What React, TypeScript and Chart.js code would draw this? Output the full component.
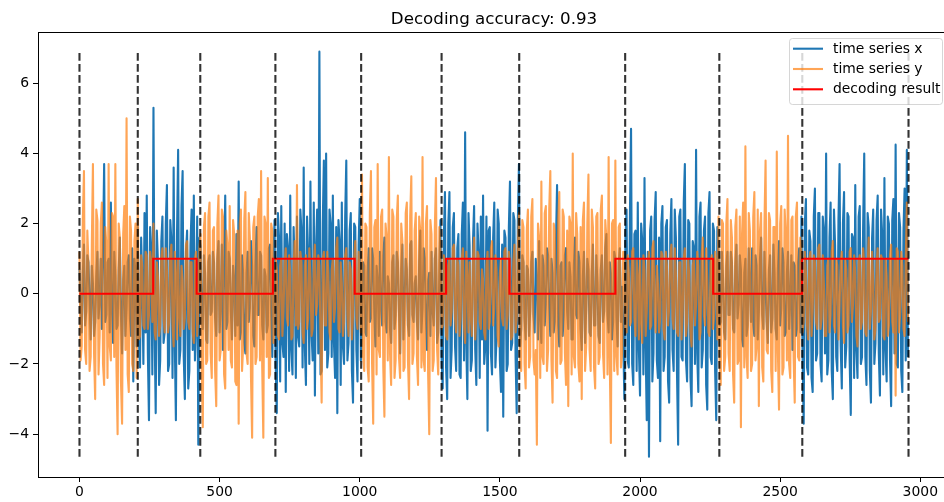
import React, { useEffect, useRef } from 'react';
import { Chart, registerables } from 'chart.js';

Chart.register(...registerables);

// ---------- data ----------
const titleText = 'Decoding accuracy: 0.93';
const legendLabels = ['time series x', 'time series y', 'decoding result'];

// values read every 4 time steps
const sampleStep = 4;

const seriesX = [
  0.7,-0.4,-1.1,0.6,1.4,-0.9,-0.5,1.1,0.9,-0.2,-1.3,0.8,0.3,-1.2,-0.8,0.5,1.2,-0.7,-0.2,1.0,
  -1.0,1.3,3.7,-0.8,-0.6,0.9,1.0,-1.1,2.6,-0.5,-1.4,1.2,0.5,-1.0,-0.9,0.7,1.6,-0.6,-1.7,0.4,
  0.8,-1.2,-0.4,0.9,1.1,-0.7,-1.2,1.3,-2.5,1.0,0.6,-1.5,1.9,-1.3,-2.1,1.6,0.4,-2.0,2.3,-1.1,
  2.8,-1.7,-3.6,1.9,1.2,-2.3,5.3,-1.0,-3.4,1.8,0.9,-2.6,-1.9,1.5,2.2,-1.4,-1.1,2.0,3.1,-2.2,
  -2.0,2.1,1.5,-2.4,3.6,-1.3,-3.6,1.7,4.1,-2.0,-1.6,2.5,3.5,-1.8,-3.0,1.2,1.8,-2.7,-2.2,1.4,
  2.4,-1.6,2.8,-1.9,-0.7,2.2,-4.3,1.6,1.3,-0.8,-1.0,1.1,0.6,-1.3,-1.4,0.9,1.1,-0.6,-0.5,1.2,
  0.9,-0.7,-1.2,1.0,1.5,-1.1,-0.3,1.4,-1.6,0.7,2.8,-1.0,-0.8,1.2,1.0,-0.5,-1.3,0.8,0.4,-1.2,
  1.7,-0.9,3.2,-1.3,-1.1,1.1,0.6,-1.4,-1.7,0.6,1.2,-0.8,-0.4,1.5,0.8,-1.2,-1.5,0.9,1.9,-0.6,
  -0.6,1.2,1.1,-0.9,-1.3,0.7,0.5,-1.1,-0.9,1.3,1.4,-0.6,-1.8,0.9,2.1,-2.0,-3.4,2.3,1.6,-2.5,
  2.5,-1.4,-1.8,2.0,-2.8,1.7,1.3,-2.2,2.8,-1.6,-2.3,1.9,0.7,-2.4,2.2,-1.2,-1.5,2.4,1.8,-2.1,
  3.6,-1.5,-2.6,2.2,1.1,-2.0,3.2,-1.1,-1.9,2.6,-2.9,1.3,2.4,-1.7,6.9,-2.3,-2.2,2.0,3.8,-1.6,
  4.0,-2.1,-1.7,2.4,2.0,-1.8,2.8,-1.4,-2.4,1.9,-3.4,2.1,1.5,-2.6,2.6,-1.5,-2.0,2.2,3.8,-1.9,
  -1.4,1.8,2.3,-2.2,-3.1,2.0,1.9,-1.6,-2.5,1.4,2.7,-1.9,-1.0,0.9,0.8,-1.1,-1.2,0.6,1.3,-0.8,
  -0.7,1.3,1.0,-0.6,-1.5,0.8,0.4,-1.2,1.2,-0.4,-0.9,1.1,1.6,-0.8,-1.1,0.5,0.3,-1.0,-1.4,0.9,
  1.1,-1.0,-0.6,1.2,0.9,-0.5,-1.7,0.7,1.4,-1.3,-0.2,1.0,0.7,-0.9,-1.2,1.4,1.5,-0.6,-0.8,0.3,
  0.5,-0.8,-1.3,0.9,1.8,-1.1,-0.4,1.3,1.0,-0.7,-1.6,0.4,0.6,-1.2,1.2,-0.5,-0.9,1.0,1.3,-1.4,
  -1.1,0.6,2.1,-1.8,-2.7,1.6,2.9,-2.1,-3.0,2.0,2.9,-2.4,-1.6,1.9,2.3,-1.5,-2.2,1.3,1.7,-2.3,
  -2.4,1.7,2.6,-1.9,4.6,-1.4,-3.0,2.3,1.4,-2.2,-1.9,1.5,2.5,-1.6,-2.6,2.0,1.2,-2.4,2.2,-1.3,
  2.8,-2.0,-1.5,2.2,-3.9,1.8,1.9,-1.7,-2.3,1.6,2.6,-2.1,-1.3,2.4,2.0,-1.9,-2.8,1.4,-3.5,1.8,
  1.6,-2.2,-2.0,1.9,3.2,-1.6,-1.4,2.3,2.1,-1.8,-3.4,2.0,3.7,-1.5,-1.0,1.1,0.9,-0.7,-1.3,0.8,
  0.7,-1.2,-0.5,0.9,1.2,-0.6,-1.1,1.0,0.4,-1.3,1.5,-0.7,-1.4,1.1,0.8,-0.9,-0.3,1.3,1.1,-0.4,
  -1.2,1.0,0.6,-1.1,-0.8,1.4,3.1,-0.9,-1.5,0.8,0.9,-1.2,-0.6,1.1,1.3,-0.5,-1.0,0.9,0.5,-1.3,
  -1.3,0.8,1.6,-0.6,-0.7,1.2,0.9,-1.0,-1.6,0.5,1.2,-1.4,-0.4,1.0,0.7,-1.1,-1.2,0.6,1.4,-0.9,
  -0.9,1.1,0.3,-1.2,-1.4,0.7,1.1,-0.8,-0.5,1.3,1.7,-0.6,-1.1,0.9,0.6,-1.3,-0.8,1.2,1.0,-0.7,
  -1.5,0.9,1.3,-0.8,0.2,-1.1,-3.0,1.6,2.4,-1.9,-2.1,2.3,4.7,-2.0,-2.6,1.7,1.8,-2.2,2.6,-1.6,
  -2.9,2.0,1.5,-2.3,3.3,-1.5,-3.6,1.2,-4.64,1.8,2.2,-2.5,-1.7,2.1,2.9,-1.9,-2.4,1.6,-4.2,2.0,
  2.5,-2.2,-1.8,1.9,2.1,-2.5,-3.1,1.7,2.7,-1.6,-2.2,2.4,1.6,-2.3,-4.3,2.2,2.4,-1.8,-1.9,2.6,
  3.7,-1.9,-2.5,2.1,2.0,-2.4,-3.2,1.5,1.3,-2.0,4.1,-1.7,-2.8,2.2,2.6,-2.1,-1.6,1.8,2.2,-2.6,
  -3.3,2.3,2.9,-1.8,-2.0,2.0,1.8,-2.2,-3.6,1.9,1.1,-0.9,-0.8,1.2,0.5,-1.1,-1.3,0.8,1.2,-0.6,
  -0.6,1.2,0.9,-1.0,-1.1,0.8,1.4,-0.7,-0.3,1.1,0.7,-1.3,-1.5,0.6,1.0,-1.2,-0.9,1.3,0.4,-0.8,
  1.3,-0.9,-1.2,1.1,0.8,-1.3,-0.5,1.0,1.6,-0.6,-1.0,1.2,0.2,-0.8,-1.4,0.7,1.1,-1.1,-0.7,1.4,
  0.6,-1.0,-1.3,0.7,1.5,-0.9,-0.4,1.3,0.9,-1.2,-1.1,0.6,1.2,-1.0,-0.2,1.1,-1.6,0.9,0.8,-1.2,
  -1.0,0.9,1.3,-1.1,2.2,-1.8,-3.7,2.0,2.7,-2.1,-2.3,1.8,1.5,-2.4,-2.8,2.2,3.0,-1.9,-1.7,2.3,
  2.3,-2.0,-2.5,2.2,1.8,-1.7,4.0,-2.3,-1.9,1.6,2.6,-2.2,-3.0,2.4,1.4,-1.8,-2.2,2.1,3.7,-1.5,
  -2.7,2.0,2.9,-2.1,-1.5,2.3,2.2,-1.9,-3.45,1.7,1.6,-2.4,3.1,-1.6,-2.4,2.2,2.5,-2.0,-1.8,1.9,
  4.0,-1.8,-2.6,2.3,1.9,-2.2,-3.1,1.6,2.4,-2.0,-1.4,2.1,2.8,-1.7,-2.9,2.4,1.7,-2.3,3.3,-1.6,
  -2.5,2.2,2.0,-1.9,-3.2,2.1,2.7,-1.7,4.25,-2.0,-2.1,2.3,1.9,-2.2,-2.8,1.8,3.0,-1.9,4.1,-1.8,
];

const seriesY = [
  1.2,-1.9,-1.5,2.1,3.5,-1.6,-2.0,1.8,0.9,-2.2,-1.8,1.4,3.7,-1.7,-3.0,2.4,2.1,-2.3,-1.2,2.0,
  2.6,-2.0,-2.6,1.9,1.4,-2.4,3.7,-1.5,-1.9,2.3,2.2,-1.8,3.7,-2.1,-4.0,2.0,1.6,-2.5,-3.7,1.7,
  2.5,-1.6,5.0,-2.3,-2.8,2.2,1.8,-2.0,-2.2,1.5,2.0,-2.4,2.7,-1.3,-1.2,1.1,0.8,-0.9,-1.0,1.2,
  1.1,-1.0,-0.6,1.2,0.9,-0.8,2.0,-1.1,-1.3,0.9,0.5,-1.2,-0.9,1.0,1.3,-0.7,-1.1,1.3,0.7,-1.1,
  -0.8,1.1,1.4,-0.9,-1.5,1.2,0.6,-1.3,1.0,-0.6,-1.2,0.8,0.4,-1.0,-0.7,1.4,1.5,-0.8,-1.0,0.9,
  0.9,-1.1,-1.4,1.0,1.2,-1.2,-0.5,1.3,1.7,-2.1,-3.8,1.9,2.3,-2.0,-1.9,2.2,2.6,-1.7,-2.4,1.8,
  1.9,-2.2,-3.2,2.0,2.8,-1.9,-1.6,2.4,2.2,-2.3,-2.7,1.8,1.4,-1.6,2.5,-1.9,-2.1,2.1,1.7,-2.5,
  -2.6,1.8,-3.7,2.0,2.4,-2.2,-1.5,2.1,2.9,-1.7,-2.0,2.3,1.6,-2.4,-4.1,1.9,2.2,-2.0,-1.8,2.2,
  2.7,-1.9,3.5,-2.1,-4.1,2.2,2.0,-1.8,3.3,-2.4,-2.3,2.0,1.8,-1.4,-1.1,1.0,0.7,-1.2,-1.3,0.8,
  1.0,-1.2,-0.5,0.9,1.3,-0.7,-0.9,1.1,0.6,-1.3,-1.2,0.8,1.5,-0.9,3.1,-1.0,-0.8,1.2,0.9,-1.1,
  -1.4,0.8,1.1,-1.0,-0.7,1.3,0.5,-1.2,-1.0,0.9,1.4,-0.6,-0.3,1.1,0.8,-1.3,-3.1,1.0,1.2,-0.9,
  -0.9,1.2,0.6,-1.1,-1.3,0.7,1.0,-0.8,-0.4,1.3,1.6,-1.0,-1.1,0.9,0.3,-1.2,-0.8,1.1,1.3,-0.6,
  -1.2,0.9,0.7,-1.3,-0.6,1.0,1.5,-0.7,-1.0,1.2,0.4,-1.1,3.4,-1.8,-2.2,2.0,1.9,-2.1,-2.5,2.3,
  3.5,-2.0,-3.7,1.9,2.1,-2.3,3.7,-1.6,-1.8,2.2,2.4,-2.1,-3.5,2.0,1.6,-1.9,3.9,-1.7,-2.6,2.4,
  2.2,-2.4,-1.9,2.1,2.8,-1.8,-2.4,2.0,1.5,-2.2,-2.1,2.3,2.6,-1.9,-3.0,2.2,3.35,-2.0,-1.7,1.8,
  2.3,-1.8,-2.6,2.2,1.8,-2.1,3.9,-1.9,-2.2,2.0,2.5,-2.3,-4.0,2.1,1.7,-2.2,-1.9,1.9,3.3,-1.6,
  -2.3,1.9,1.2,-1.0,-0.9,1.1,0.6,-1.2,-1.3,0.8,1.0,-0.9,-0.5,1.3,1.4,-0.7,-1.1,1.0,0.8,-1.2,
  -0.7,1.0,1.3,-0.9,-1.4,1.2,0.5,-1.1,0.9,-0.6,-1.2,1.0,1.6,-1.3,-0.6,1.2,1.1,-0.8,-1.0,0.7,
  0.4,-1.1,-1.3,0.8,1.2,-1.0,-0.8,1.3,1.5,-0.9,-0.4,1.1,0.7,-1.2,-1.5,0.6,1.0,-0.7,-0.9,1.2,
  1.3,-1.0,-0.6,1.2,0.8,-1.3,-1.2,0.9,1.4,-1.1,-0.7,1.3,2.3,-1.9,-2.2,2.1,1.9,-2.0,-2.7,1.8,
  2.4,-2.1,-1.8,2.2,2.7,-1.9,-2.3,-1.6,-4.3,2.0,1.6,-2.4,3.2,-1.8,-2.0,2.3,2.5,-2.2,-1.6,2.4,
  3.5,-1.9,-3.1,2.0,1.8,-2.2,-2.4,2.1,2.9,-2.0,-1.9,2.4,2.2,-1.7,-2.6,1.8,-3.2,2.2,2.0,-2.3,
  4.0,-1.8,-2.1,2.3,1.7,-2.0,-2.5,1.9,-3.0,2.1,2.6,-2.2,-1.5,2.0,3.4,-1.6,-2.2,2.4,1.9,-2.1,
  -2.7,2.2,2.3,-2.0,-1.8,2.4,2.8,-1.7,-2.4,2.1,1.6,-2.3,3.9,-1.9,-4.25,2.0,2.1,-2.2,3.8,-1.8,
  -2.3,1.9,2.0,-2.1,-1.7,1.2,0.9,-1.0,-1.1,1.1,0.6,-0.9,-0.8,1.2,1.3,-0.7,-1.2,1.0,0.5,-1.3,
  1.0,-0.8,-1.4,1.1,0.7,-1.2,-0.5,0.9,1.2,-1.0,-0.9,1.3,1.5,-0.6,-1.1,0.8,0.3,-1.1,-0.7,1.2,
  1.1,-1.0,-1.3,1.2,0.8,-0.9,-0.4,1.1,1.4,-0.7,-1.0,1.3,0.6,-1.1,-1.2,0.9,0.9,-1.3,-0.6,1.0,
  1.3,-1.2,-0.8,1.0,0.5,-1.1,-1.5,0.8,1.0,-0.9,-0.3,1.2,0.8,-1.3,-1.1,1.1,1.6,-0.6,-0.9,1.3,
  0.4,-1.1,-1.2,0.9,1.1,-1.0,-0.7,1.2,0.9,-1.3,2.2,-1.9,-2.6,2.1,2.0,-2.2,-1.8,2.0,2.7,-1.7,
  -2.2,2.1,1.6,-2.3,-3.1,1.9,2.4,-2.0,-1.9,2.2,-3.8,1.7,2.6,-2.1,4.2,-1.8,-2.4,2.3,1.8,-2.2,
  -2.0,2.2,2.9,-1.9,-1.5,2.4,-3.2,1.8,2.3,-2.1,-2.5,2.0,3.8,-1.6,-1.7,2.3,2.1,-2.2,-2.8,1.9,
  1.9,-2.2,4.05,-1.7,-3.3,2.0,2.5,-2.3,-2.1,2.4,1.7,-1.9,4.5,-2.0,-2.4,2.1,2.2,-1.8,-3.1,2.2,
  2.6,-1.8,-1.9,1.6,1.1,-1.1,-0.8,1.2,0.6,-0.9,-1.3,1.0,1.2,-1.2,-0.5,1.1,0.9,-0.8,-1.0,1.3,
  1.4,-1.0,-0.7,1.1,0.3,-1.2,-1.2,0.8,1.0,-1.1,-0.6,1.2,1.5,-0.9,-1.1,1.0,0.8,-1.3,-0.4,0.9,
  1.2,-0.9,-1.4,1.0,0.7,-1.1,-0.9,1.2,1.3,-0.8,-0.3,1.1,0.6,-1.2,-1.5,0.9,1.1,-1.0,-0.8,1.3,
  0.9,-1.1,-1.2,0.8,1.6,-1.0,-0.5,1.2,0.4,-1.3,-1.0,0.9,1.3,-0.8,-0.7,1.1,1.0,-1.2,-1.3,1.0,
  0.5,-1.2,-0.9,1.1,1.4,-0.8,-1.1,1.0,-2.9,1.3,1.2,-1.1,-0.6,1.2,0.8,-1.0,-1.2,0.9,2.6,-0.8,
];

// decoding result: level holds from each start until the next start
const decodeStarts = [0, 263, 418, 690, 982, 1308, 1534, 1912, 2261, 2578];
const decodeLevels = [0, 1, 0, 1, 0, 1, 0, 1, 0, 1];
const decodeEnd = 2958;

// true segment boundaries (dashed vertical lines)
const boundaries = [0, 208, 431, 699, 1005, 1292, 1569, 1947, 2283, 2579, 2958];
const boundaryBottom = -4.64;
const boundaryTop = 6.88;

const xTicks = [0, 500, 1000, 1500, 2000, 2500, 3000];
const yTicks = [-4, -2, 0, 2, 4, 6];
const xMin = -148;
const xMax = 3106;
const yMin = -5.22;
const yMax = 7.46;

// ---------- styles ----------
const FONT = "'DejaVu Sans', sans-serif";
const BLUE = '#1f77b4';
const ORANGE = 'rgba(255,127,14,0.7)';
const RED = '#ff0000';
const LW = 2.1;

export default function App() {
  const ref = useRef<HTMLCanvasElement>(null);

  useEffect(() => {
    const xData = seriesX.map((v, i) => ({ x: i * sampleStep, y: v }));
    const yData = seriesY.map((v, i) => ({ x: i * sampleStep, y: v }));

    const decData: { x: number; y: number }[] = decodeStarts.map((s, k) => ({
      x: s,
      y: decodeLevels[k],
    }));
    decData.push({ x: decodeEnd, y: decodeLevels[decodeLevels.length - 1] });

    const vData: { x: number; y: number | null }[] = [];
    boundaries.forEach((b) => {
      vData.push({ x: b, y: boundaryBottom });
      vData.push({ x: b, y: boundaryTop });
      vData.push({ x: b, y: null });
    });

    const framePlugin = {
      id: 'framePlugin',
      afterDraw(chart: any) {
        const { ctx, chartArea } = chart;
        ctx.save();
        // axes box
        ctx.strokeStyle = '#000';
        ctx.lineWidth = 1;
        ctx.strokeRect(
          Math.round(chartArea.left) + 0.5,
          Math.round(chartArea.top) + 0.5,
          Math.round(chartArea.right - chartArea.left),
          Math.round(chartArea.bottom - chartArea.top)
        );

        // title
        ctx.fillStyle = '#000';
        ctx.font = `16.7px ${FONT}`;
        ctx.textAlign = 'center';
        ctx.textBaseline = 'alphabetic';
        ctx.fillText(titleText, (chartArea.left + chartArea.right) / 2, 23.5);

        // legend
        const bx = 789.5;
        const by = 38.5;
        const bw = 153;
        const bh = 66;
        const r = 3;
        ctx.beginPath();
        ctx.moveTo(bx + r, by);
        ctx.lineTo(bx + bw - r, by);
        ctx.quadraticCurveTo(bx + bw, by, bx + bw, by + r);
        ctx.lineTo(bx + bw, by + bh - r);
        ctx.quadraticCurveTo(bx + bw, by + bh, bx + bw - r, by + bh);
        ctx.lineTo(bx + r, by + bh);
        ctx.quadraticCurveTo(bx, by + bh, bx, by + bh - r);
        ctx.lineTo(bx, by + r);
        ctx.quadraticCurveTo(bx, by, bx + r, by);
        ctx.closePath();
        ctx.fillStyle = 'rgba(255,255,255,0.8)';
        ctx.fill();
        ctx.strokeStyle = 'rgba(204,204,204,0.8)';
        ctx.lineWidth = 1;
        ctx.stroke();

        const colors = [BLUE, ORANGE, RED];
        const rows = [48.7, 69, 89.3];
        ctx.font = `13.9px ${FONT}`;
        ctx.textAlign = 'left';
        ctx.textBaseline = 'middle';
        legendLabels.forEach((lab, i) => {
          ctx.beginPath();
          ctx.strokeStyle = colors[i];
          ctx.lineWidth = LW;
          ctx.moveTo(793, rows[i]);
          ctx.lineTo(823, rows[i]);
          ctx.stroke();
          ctx.fillStyle = '#000';
          ctx.fillText(lab, 833, rows[i] + 0.5);
        });
        ctx.restore();
      },
    };

    const chart = new Chart(ref.current as HTMLCanvasElement, {
      type: 'line',
      data: {
        datasets: [
          {
            label: legendLabels[0],
            data: xData,
            borderColor: BLUE,
            borderWidth: LW,
            pointRadius: 0,
            tension: 0,
            borderJoinStyle: 'round',
            order: 4,
          },
          {
            label: legendLabels[1],
            data: yData,
            borderColor: ORANGE,
            borderWidth: LW,
            pointRadius: 0,
            tension: 0,
            borderJoinStyle: 'round',
            order: 3,
          },
          {
            label: legendLabels[2],
            data: decData,
            borderColor: RED,
            borderWidth: LW,
            pointRadius: 0,
            stepped: 'before',
            order: 2,
          },
          {
            label: 'boundaries',
            data: vData as any,
            borderColor: 'rgba(0,0,0,0.8)',
            borderWidth: LW,
            borderDash: [7.7, 3.3],
            pointRadius: 0,
            spanGaps: false,
            order: 1,
          },
        ],
      },
      options: {
        animation: false,
        responsive: false,
        devicePixelRatio: 1,
        parsing: false as any,
        normalized: true,
        layout: { padding: { left: 0, top: 32, right: 10, bottom: 0 } },
        plugins: {
          legend: { display: false },
          title: { display: false },
          tooltip: { enabled: false },
        },
        scales: {
          x: {
            type: 'linear',
            min: xMin,
            max: xMax,
            afterBuildTicks: (s: any) => {
              s.ticks = xTicks.map((v) => ({ value: v }));
            },
            afterFit: (s: any) => {
              s.height = 25;
            },
            ticks: {
              color: '#000',
              font: { family: FONT, size: 13.9 },
              padding: 2,
              maxRotation: 0,
              autoSkip: false,
              callback: (v: any) => String(v),
            },
            grid: {
              drawOnChartArea: false,
              drawTicks: true,
              tickLength: 5,
              color: '#000',
              tickColor: '#000',
            },
            border: { display: true, color: '#000', width: 1 },
          },
          y: {
            type: 'linear',
            min: yMin,
            max: yMax,
            afterBuildTicks: (s: any) => {
              s.ticks = yTicks.map((v) => ({ value: v }));
            },
            afterFit: (s: any) => {
              s.width = 38;
            },
            ticks: {
              color: '#000',
              font: { family: FONT, size: 13.9 },
              padding: 4,
              callback: (v: any) => (v < 0 ? '\u2212' + Math.abs(v) : String(v)),
            },
            grid: {
              drawOnChartArea: false,
              drawTicks: true,
              tickLength: 5,
              color: '#000',
              tickColor: '#000',
            },
            border: { display: true, color: '#000', width: 1 },
          },
        },
      },
      plugins: [framePlugin],
    });

    return () => chart.destroy();
  }, []);

  return (
    <div
      style={{
        position: 'fixed',
        left: 0,
        top: 0,
        width: 944,
        height: 502,
        overflow: 'hidden',
        background: '#fff',
      }}
    >
      <canvas ref={ref} width={960} height={502} style={{ display: 'block', width: 960, height: 502 }} />
    </div>
  );
}
